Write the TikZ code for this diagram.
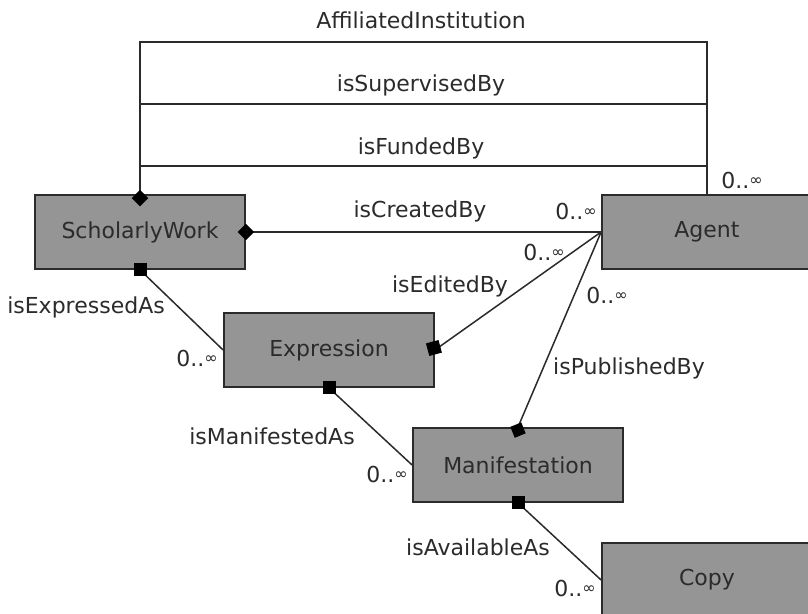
\documentclass[tikz,border=0pt]{standalone}
\usepackage{fontspec}
\setmainfont{DejaVu Sans}
\usetikzlibrary{shapes.geometric}
\definecolor{boxfill}{HTML}{959595}
\definecolor{ink}{HTML}{2B2B2B}
\newcommand{\myinf}{{\fontsize{8}{8}\selectfont\raisebox{1.2pt}{∞}}}
\begin{document}
\begin{tikzpicture}[x=0.5pt,y=-0.5pt,
  entity/.style={draw=ink, line width=0.9pt, fill=boxfill, minimum width=105pt, minimum height=37pt, inner sep=0pt, text=ink, font=\fontsize{11}{13}\selectfont},
  lbl/.style={text=ink, inner sep=0pt, font=\fontsize{11}{13}\selectfont},
  conn/.style={draw=ink, line width=0.75pt},
  dia/.style={diamond, fill=black, inner sep=0pt, minimum width=8.5pt, minimum height=8.5pt},
  sq/.style={rectangle, fill=black, inner sep=0pt, minimum size=6.5pt}]
\useasboundingbox (0,0) rectangle (808,614);
\clip (0,0) rectangle (808,614);
\fill[white] (0,0) rectangle (808,614);

% entities
\node[entity] (sw) at (140,232) {ScholarlyWork};
\node[entity] (agent) at (707,232) {Agent};
\node[entity] (expr) at (329,350) {Expression};
\node[entity] (man) at (518,465) {Manifestation};
\node[entity] (copy) at (707,580) {Copy};

% helper levels
\coordinate (yA) at (0,42);
\coordinate (yB) at (0,104);
\coordinate (yC) at (0,166);

% connectors
\draw[conn] (sw.north) |- (yA -| agent.north) -- (agent.north);
\draw[conn] (sw.north |- yB) -- (agent.north |- yB);
\draw[conn] (sw.north |- yC) -- (agent.north |- yC);
\draw[conn] (sw.east) -- (agent.west);
\draw[conn] (agent.west) -- (expr.east);
\draw[conn] (agent.west) -- (man.north);
\draw[conn] (sw.south) -- (expr.west);
\draw[conn] (expr.south) -- (man.west);
\draw[conn] (man.south) -- (copy.west);

% markers
\node[dia] (d1) at ([yshift=-2pt]sw.north) {};
\node[dia] (d2) at (sw.east) {};
\node[dia, rotate=-23] (d3) at ([yshift=-1.5pt]man.north) {};
\node[sq] (s1) at (sw.south) {};
\node[sq, rotate=15] (s2) at ([xshift=-0.5pt,yshift=1pt]expr.east) {};
\node[sq] (s3) at (expr.south) {};
\node[sq] (s4) at (man.south) {};

% labels
\node[lbl] (l1) at (421,20) {AffiliatedInstitution};
\node[lbl] (l2) at (421,85) {isSupervisedBy};
\node[lbl] (l3) at (421,148) {isFundedBy};
\node[lbl] (m1) at (742,180) {0..\myinf};
\node[lbl] (l4) at (420,211) {isCreatedBy};
\node[lbl] (m2) at (576,211) {0..\myinf};
\node[lbl] (m3) at (544,252) {0..\myinf};
\node[lbl] (l5) at (450,286) {isEditedBy};
\node[lbl] (m4) at (607,295) {0..\myinf};
\node[lbl] (l6) at (629,368) {isPublishedBy};
\node[lbl] (l7) at (86,307) {isExpressedAs};
\node[lbl] (m5) at (197,358) {0..\myinf};
\node[lbl] (l8) at (272,436) {isManifestedAs};
\node[lbl] (m6) at (387,474) {0..\myinf};
\node[lbl] (l9) at (478,547) {isAvailableAs};
\node[lbl] (m7) at (575,588) {0..\myinf};
\end{tikzpicture}
\end{document}
